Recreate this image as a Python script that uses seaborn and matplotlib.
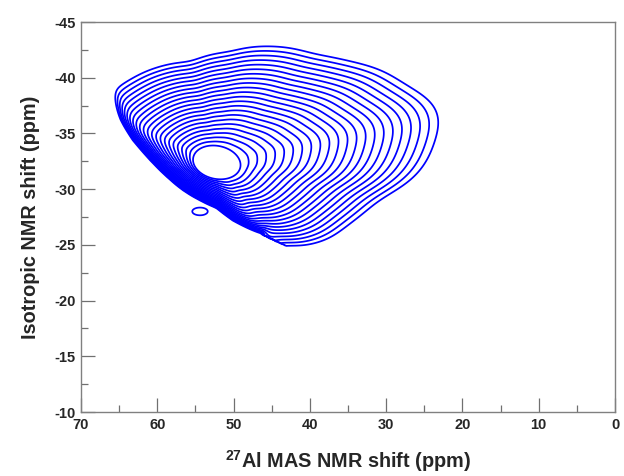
import math
import numpy as np
import matplotlib
matplotlib.use("Agg")
import matplotlib.pyplot as plt
import seaborn as sns

# ---- values (ppm) ----
# outline of the lowest contour level on the open (tail) side, clockwise
outline_mas = [63.6, 59.6, 55.7, 50.5, 45.2, 39.1, 34.7, 29.9, 26.5, 24.2,
               22.4, 23.6, 24.0, 26.5, 30.8, 34.7, 37.4, 39.6, 41.6, 43.9]
outline_iso = [-39.8, -41.0, -41.4, -42.3, -42.8, -42.0, -41.4, -40.5, -38.7, -38.4,
               -35.9, -35.0, -33.2, -30.8, -29.3, -27.0, -25.6, -25.1, -24.9, -25.1]
# sharp lower-left edge of the distribution, from the left tip down towards the bottom
edge_mas = [66.8, 64.9, 63.2, 60.9, 58.7, 56.6, 54.4, 52.2, 50.1, 46.5]
edge_iso = [-38.6, -36.2, -34.4, -32.6, -31.1, -29.9, -29.0, -28.3, -27.2, -26.0]
peak_mas, peak_iso = 52.2, -32.4          # intensity maximum
peak_halfwidth = [3.15, 1.48]             # innermost contour half-widths (ppm)
peak_tilt_deg = 12.0
artifact_mas, artifact_iso = 54.4, -28.0  # small isolated contour
artifact_halfwidth = [1.9, 0.65]
artifact_amp = 0.0385
n_levels = 23
dynamic_range = 3.4                       # ln(max level / min level)
edge_depth = 0.75                         # fraction of levels that end on the sharp edge
edge_width_px = 9.0

x_ticks = [70, 60, 50, 40, 30, 20, 10, 0]
y_ticks = [-45, -40, -35, -30, -25, -20, -15, -10]

sns.set_theme(style="white")
plt.rcParams["font.family"] = ["Liberation Sans", "DejaVu Sans"]
plt.rcParams["font.weight"] = "bold"
plt.rcParams["axes.unicode_minus"] = False
plt.rcParams["mathtext.fontset"] = "custom"
plt.rcParams["mathtext.rm"] = "Liberation Sans:bold"
plt.rcParams["mathtext.it"] = "Liberation Sans:bold"
plt.rcParams["mathtext.bf"] = "Liberation Sans:bold"

fig = plt.figure(figsize=(6.24, 4.76), dpi=100)
ax = fig.add_axes([81 / 624, 1 - 412 / 476, (615 - 81) / 624, (412 - 22) / 476])
ax.set_xlim(70, 0)
ax.set_ylim(-10, -45)

# display scale (px per ppm) so that shapes are handled isotropically on screen
kx = ax.bbox.width / 70.0
ky = ax.bbox.height / 35.0

def to_uv(mas, iso):
    return (peak_mas - np.asarray(mas, float)) * kx, (np.asarray(iso, float) - peak_iso) * ky

# ---- intensity field ----
xs = np.linspace(0, 70, 841)
ys = np.linspace(-45, -10, 561)
X, Y = np.meshgrid(xs, ys)
U, V = to_uv(X, Y)
TH = np.arctan2(V, U)
R = np.hypot(U, V)

a = peak_halfwidth[0] * kx
b = peak_halfwidth[1] * ky
phi = np.deg2rad(peak_tilt_deg)

def r_inner(th):
    return 1.0 / np.sqrt((np.cos(th - phi) / a) ** 2 + (np.sin(th - phi) / b) ** 2)

# radial profile: open side from the outline, edge side pushed outward (cut later by edge)
ou, ov = to_uv(outline_mas, outline_iso)
eu, ev = to_uv(edge_mas[1:], edge_iso[1:])
eth = np.arctan2(ev, eu)
er = np.hypot(eu, ev)
eri = r_inner(eth)
er_push = eri + (er - eri) / edge_depth
pu = np.concatenate([ou, er_push * np.cos(eth)])
pv = np.concatenate([ov, er_push * np.sin(eth)])
oth = np.arctan2(pv, pu)
orr = np.hypot(pu, pv)
order = np.argsort(oth)
th_s = np.linspace(-np.pi, np.pi, 720, endpoint=False)
r_out = np.interp(th_s, oth[order], orr[order], period=2 * np.pi)
spec = np.fft.rfft(r_out)
spec *= np.exp(-0.5 * (np.arange(spec.size) / 16.0) ** 2)
r_out = np.fft.irfft(spec, n=th_s.size)
r_in = r_inner(th_s)

Rin = np.interp(TH, th_s, r_in, period=2 * np.pi)
Rout = np.interp(TH, th_s, r_out, period=2 * np.pi)
Q = (R - Rin) / (Rout - Rin)
I_main = np.exp(-dynamic_range * Q)

# signed distance (px) to the sharp edge polyline, positive on the peak side
gu, gv = to_uv(edge_mas, edge_iso)
best = np.full(U.shape, np.inf)
sign = np.ones(U.shape)
for i in range(len(gu) - 1):
    p0 = np.array([gu[i], gv[i]])
    d = np.array([gu[i + 1] - gu[i], gv[i + 1] - gv[i]])
    L2 = d @ d
    tt = np.clip(((U - p0[0]) * d[0] + (V - p0[1]) * d[1]) / L2, 0, 1)
    dist = np.hypot(U - (p0[0] + tt * d[0]), V - (p0[1] + tt * d[1]))
    cr = d[0] * (V - p0[1]) - d[1] * (U - p0[0])
    cr_peak = d[0] * (0 - p0[1]) - d[1] * (0 - p0[0])
    m = dist < best
    best = np.where(m, dist, best)
    sign = np.where(m, np.where(cr * cr_peak >= 0, 1.0, -1.0), sign)
SD = best * sign

# outer level reached exactly on the edge line
e0 = math.exp(-dynamic_range * (1 - edge_depth))
target = 2 * e0 - 1
lo, hi = -5.0, 5.0
for _ in range(60):
    mid = 0.5 * (lo + hi)
    if math.erf(mid) < target:
        lo = mid
    else:
        hi = mid
shift = mid
erf = np.vectorize(math.erf)
EF = 0.5 * (1 + erf(SD / edge_width_px + shift))

I_art = artifact_amp * np.exp(-0.5 * (((X - artifact_mas) / artifact_halfwidth[0]) ** 2
                                      + ((Y - artifact_iso) / artifact_halfwidth[1]) ** 2))
I = np.maximum(I_main * EF, I_art)

levels = np.exp(-dynamic_range * np.linspace(1, 0, n_levels))
ax.contour(X, Y, I, levels=levels, colors="#0000ff", linewidths=1.25)

ax.set_xlim(70, 0)
ax.set_ylim(-10, -45)
ax.set_xticks(x_ticks)
ax.set_yticks(y_ticks)
ax.set_xticks(np.arange(5, 70, 10), minor=True)
ax.set_yticks(np.arange(-42.5, -10, 5), minor=True)
ax.tick_params(axis="both", which="major", direction="in", length=10, width=0.9,
               color="#707070", labelsize=10.5, pad=4, bottom=True, left=True,
               top=False, right=False)
ax.tick_params(axis="both", which="minor", direction="in", length=5, width=0.9,
               color="#707070", bottom=True, left=True, top=False, right=False)
for lab in ax.get_xticklabels() + ax.get_yticklabels():
    lab.set_fontweight("bold")
for sp in ax.spines.values():
    sp.set_color("#808080")
    sp.set_linewidth(1.0)
    sp.set_visible(True)
ax.grid(False)
ax.set_xlabel(r"$^{27}$Al MAS NMR shift (ppm)", fontsize=14.3, fontweight="bold", labelpad=12)
ax.set_ylabel("Isotropic NMR shift (ppm)", fontsize=14.3, fontweight="bold", labelpad=10)
fig.savefig("out.png", dpi=100, facecolor="white")
